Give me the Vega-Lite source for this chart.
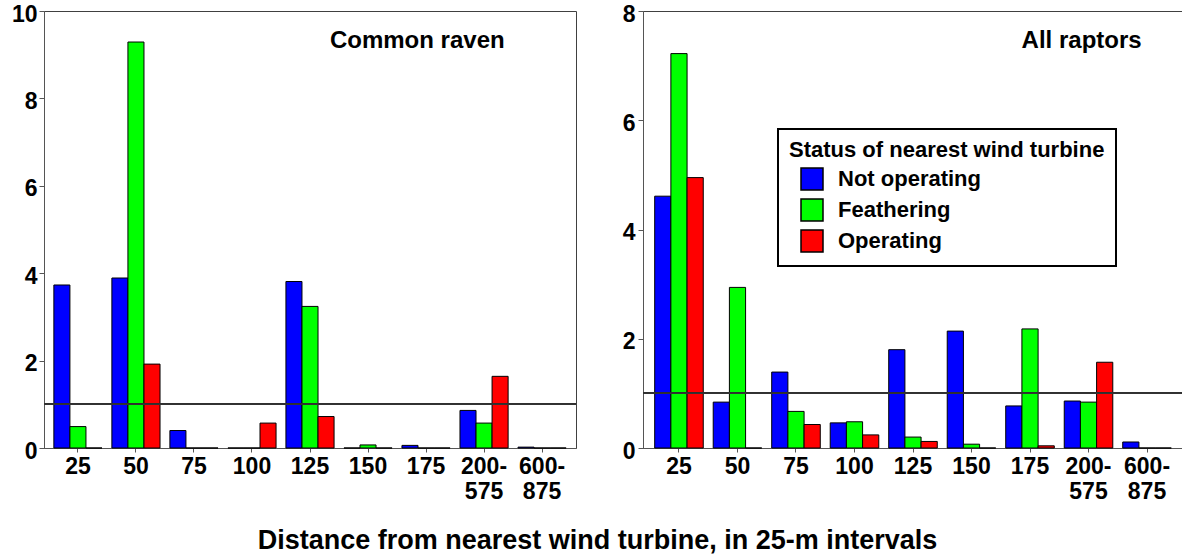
{
  "$schema": "https://vega.github.io/schema/vega-lite/v6.json",
  "background": "white",
  "padding": {"left": 10, "top": 2, "right": 0, "bottom": 0},
  "bounds": "flush",
  "spacing": 67,
  "config": {
    "font": "Liberation Sans",
    "view": {"stroke": "#404040", "strokeWidth": 1},
    "axis": {
      "labelFont": "Liberation Sans",
      "labelFontWeight": "bold",
      "labelFontSize": 23,
      "labelColor": "black",
      "domainColor": "#555555",
      "tickColor": "#555555",
      "grid": false,
      "title": null
    },
    "title": {"font": "Liberation Sans", "fontWeight": "bold", "color": "black"}
  },
  "title": {
    "text": "Distance from nearest wind turbine, in 25-m intervals",
    "orient": "bottom",
    "anchor": "middle",
    "fontSize": 27,
    "offset": 24,
    "dx": 0
  },
  "datasets": {
    "raven": [
      {"distance": "25", "status": "Not operating", "value": 3.73},
      {"distance": "25", "status": "Feathering", "value": 0.49},
      {"distance": "25", "status": "Operating", "value": 0},
      {"distance": "50", "status": "Not operating", "value": 3.89},
      {"distance": "50", "status": "Feathering", "value": 9.29},
      {"distance": "50", "status": "Operating", "value": 1.92},
      {"distance": "75", "status": "Not operating", "value": 0.40},
      {"distance": "75", "status": "Feathering", "value": 0},
      {"distance": "75", "status": "Operating", "value": 0},
      {"distance": "100", "status": "Not operating", "value": 0},
      {"distance": "100", "status": "Feathering", "value": 0},
      {"distance": "100", "status": "Operating", "value": 0.57},
      {"distance": "125", "status": "Not operating", "value": 3.81},
      {"distance": "125", "status": "Feathering", "value": 3.24},
      {"distance": "125", "status": "Operating", "value": 0.72},
      {"distance": "150", "status": "Not operating", "value": 0},
      {"distance": "150", "status": "Feathering", "value": 0.07},
      {"distance": "150", "status": "Operating", "value": 0},
      {"distance": "175", "status": "Not operating", "value": 0.06},
      {"distance": "175", "status": "Feathering", "value": 0},
      {"distance": "175", "status": "Operating", "value": 0},
      {"distance": "200-575", "status": "Not operating", "value": 0.86},
      {"distance": "200-575", "status": "Feathering", "value": 0.57},
      {"distance": "200-575", "status": "Operating", "value": 1.64},
      {"distance": "600-875", "status": "Not operating", "value": 0.02},
      {"distance": "600-875", "status": "Feathering", "value": 0},
      {"distance": "600-875", "status": "Operating", "value": 0}
    ],
    "raptors": [
      {"distance": "25", "status": "Not operating", "value": 4.61},
      {"distance": "25", "status": "Feathering", "value": 7.22},
      {"distance": "25", "status": "Operating", "value": 4.95},
      {"distance": "50", "status": "Not operating", "value": 0.84},
      {"distance": "50", "status": "Feathering", "value": 2.94},
      {"distance": "50", "status": "Operating", "value": 0},
      {"distance": "75", "status": "Not operating", "value": 1.39},
      {"distance": "75", "status": "Feathering", "value": 0.67},
      {"distance": "75", "status": "Operating", "value": 0.43},
      {"distance": "100", "status": "Not operating", "value": 0.46},
      {"distance": "100", "status": "Feathering", "value": 0.48},
      {"distance": "100", "status": "Operating", "value": 0.24},
      {"distance": "125", "status": "Not operating", "value": 1.80},
      {"distance": "125", "status": "Feathering", "value": 0.20},
      {"distance": "125", "status": "Operating", "value": 0.12},
      {"distance": "150", "status": "Not operating", "value": 2.14},
      {"distance": "150", "status": "Feathering", "value": 0.07},
      {"distance": "150", "status": "Operating", "value": 0},
      {"distance": "175", "status": "Not operating", "value": 0.77},
      {"distance": "175", "status": "Feathering", "value": 2.18},
      {"distance": "175", "status": "Operating", "value": 0.04},
      {"distance": "200-575", "status": "Not operating", "value": 0.86},
      {"distance": "200-575", "status": "Feathering", "value": 0.84},
      {"distance": "200-575", "status": "Operating", "value": 1.57},
      {"distance": "600-875", "status": "Not operating", "value": 0.11},
      {"distance": "600-875", "status": "Feathering", "value": 0},
      {"distance": "600-875", "status": "Operating", "value": 0}
    ]
  },
  "resolve": {
    "scale": {"x": "independent", "y": "independent", "color": "independent", "xOffset": "independent"},
    "legend": {"color": "independent"}
  },
  "hconcat": [
    {
      "width": 532,
      "height": 437,
      "data": {"name": "raven"},
      "title": {"text": "Common raven", "orient": "top", "anchor": "end", "offset": -50, "dx": -72, "fontSize": 24},
      "layer": [
        {
          "mark": {"type": "bar", "stroke": "black", "strokeWidth": 1},
          "encoding": {
            "x": {
              "field": "distance", "type": "nominal",
              "sort": ["25", "50", "75", "100", "125", "150", "175", "200-575", "600-875"],
              "scale": {"paddingInner": 0.17, "paddingOuter": 0.17},
              "axis": {"labelAngle": 0, "tickSize": 4, "labelPadding": 3, "labelLineHeight": 25,
                       "labelExpr": "length(datum.label) > 3 ? [slice(datum.label, 0, 4), slice(datum.label, 4)] : datum.label"}
            },
            "xOffset": {"field": "status", "type": "nominal", "sort": ["Not operating", "Feathering", "Operating"]},
            "y": {
              "field": "value", "type": "quantitative",
              "scale": {"domain": [0, 10], "nice": false},
              "axis": {"values": [0, 2, 4, 6, 8, 10], "tickSize": 5, "labelPadding": 2, "labelOffset": 3}
            },
            "color": {
              "field": "status", "type": "nominal",
              "scale": {"domain": ["Not operating", "Feathering", "Operating"], "range": ["#0000ff", "#00ff00", "#ff0000"]},
              "legend": null
            }
          }
        },
        {
          "mark": {"type": "rule", "color": "#333333", "strokeWidth": 1.3},
          "encoding": {"y": {"datum": 1}}
        }
      ]
    },
    {
      "width": 540,
      "height": 437,
      "data": {"name": "raptors"},
      "title": {"text": "All raptors", "orient": "top", "anchor": "end", "offset": -50, "dx": -42, "fontSize": 24},
      "layer": [
        {
          "mark": {"type": "bar", "stroke": "black", "strokeWidth": 1},
          "encoding": {
            "x": {
              "field": "distance", "type": "nominal",
              "sort": ["25", "50", "75", "100", "125", "150", "175", "200-575", "600-875"],
              "scale": {"paddingInner": 0.17, "paddingOuter": 0.2},
              "axis": {"labelAngle": 0, "tickSize": 4, "labelPadding": 3, "labelLineHeight": 25,
                       "labelExpr": "length(datum.label) > 3 ? [slice(datum.label, 0, 4), slice(datum.label, 4)] : datum.label"}
            },
            "xOffset": {"field": "status", "type": "nominal", "sort": ["Not operating", "Feathering", "Operating"]},
            "y": {
              "field": "value", "type": "quantitative",
              "scale": {"domain": [0, 8], "nice": false},
              "axis": {"values": [0, 2, 4, 6, 8], "tickSize": 5, "labelPadding": 3, "labelOffset": 3}
            },
            "color": {
              "field": "status", "type": "nominal",
              "scale": {"domain": ["Not operating", "Feathering", "Operating"], "range": ["#0000ff", "#00ff00", "#ff0000"]},
              "legend": {
                "title": "Status of nearest wind turbine",
                "orient": "none",
                "legendX": 135,
                "legendY": 118,
                "titleFont": "Liberation Sans",
                "titleFontSize": 22,
                "titleFontWeight": "bold",
                "titleColor": "black",
                "titleLimit": 400,
                "titlePadding": 5,
                "labelFont": "Liberation Sans",
                "labelFontSize": 22,
                "labelFontWeight": "bold",
                "labelColor": "black",
                "labelLimit": 300,
                "labelOffset": 14,
                "symbolType": "square",
                "symbolSize": 484,
                "symbolStrokeColor": "black",
                "symbolStrokeWidth": 1.5,
                "symbolOpacity": 1,
                "symbolOffset": 11,
                "rowPadding": 3,
                "padding": 11,
                "strokeColor": "black",
                "fillColor": "white",
                "encode": {"legend": {"update": {"strokeWidth": {"value": 2}}}}
              }
            }
          }
        },
        {
          "mark": {"type": "rule", "color": "#333333", "strokeWidth": 1.3},
          "encoding": {"y": {"datum": 1}}
        }
      ]
    }
  ]
}
